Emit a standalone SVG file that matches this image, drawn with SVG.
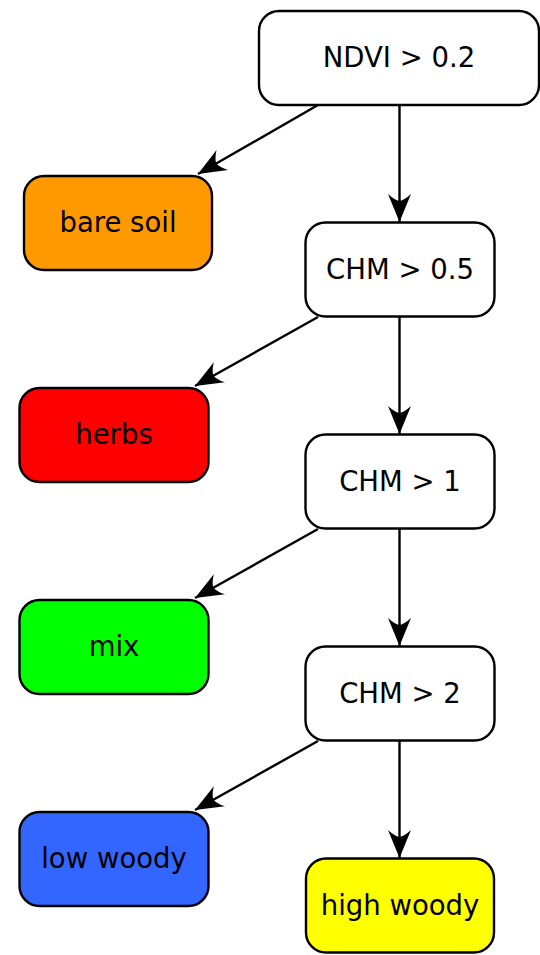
<svg xmlns="http://www.w3.org/2000/svg" width="540" height="955" viewBox="0 0 540 955">
<style>
.box{stroke:#000;stroke-width:2.4;}
.lbl{font-family:"DejaVu Sans",sans-serif;font-size:27.5px;fill:#000;text-anchor:middle;}
.edge{stroke:#000;stroke-width:2.4;fill:none;marker-end:url(#ah);}
</style>
<defs>
<marker id="ah" markerUnits="userSpaceOnUse" viewBox="0 0 28 24" refX="28" refY="12" markerWidth="28" markerHeight="24" orient="auto">
<path d="M28,12 L0,0.5 Q6,7 7,12 Q6,17 0,23.5 Z" fill="#000"/>
</marker>
</defs>
<rect width="540" height="955" fill="#fff"/>
<g id="edges">
<path class="edge" d="M399.5,105 L399.5,222"/>
<path class="edge" d="M318,105 L198,174"/>
<path class="edge" d="M399.5,317 L399.5,434"/>
<path class="edge" d="M318,317 L195,386"/>
<path class="edge" d="M399.5,529 L399.5,646"/>
<path class="edge" d="M318,529 L195,598"/>
<path class="edge" d="M399.5,741 L399.5,858"/>
<path class="edge" d="M318,741 L195,810"/>
</g>
<g id="n_ndvi"><rect class="box" x="259" y="11" width="280" height="94" rx="20" fill="#fff"/><text class="lbl" x="399" y="67">NDVI &gt; 0.2</text></g>
<g id="n_chm05"><rect class="box" x="305.5" y="222.5" width="189" height="94" rx="20" fill="#fff"/><text class="lbl" x="400" y="279">CHM &gt; 0.5</text></g>
<g id="n_chm1"><rect class="box" x="305.5" y="434.5" width="189" height="94" rx="20" fill="#fff"/><text class="lbl" x="400" y="491">CHM &gt; 1</text></g>
<g id="n_chm2"><rect class="box" x="305.5" y="646.5" width="189" height="94" rx="20" fill="#fff"/><text class="lbl" x="400" y="703">CHM &gt; 2</text></g>
<g id="n_bare"><rect class="box" x="24" y="176" width="188" height="94" rx="20" fill="#ff9900"/><text class="lbl" x="118" y="232">bare soil</text></g>
<g id="n_herbs"><rect class="box" x="19.5" y="388" width="189" height="94" rx="20" fill="#ff0000"/><text class="lbl" x="114" y="444">herbs</text></g>
<g id="n_mix"><rect class="box" x="19.5" y="600" width="189" height="94" rx="20" fill="#00ff00"/><text class="lbl" x="114" y="656">mix</text></g>
<g id="n_low"><rect class="box" x="19.5" y="812" width="189" height="94" rx="20" fill="#3366ff"/><text class="lbl" x="114" y="868">low woody</text></g>
<g id="n_high"><rect class="box" x="306" y="858.5" width="188" height="94" rx="20" fill="#ffff00"/><text class="lbl" x="400" y="915">high woody</text></g>
</svg>
